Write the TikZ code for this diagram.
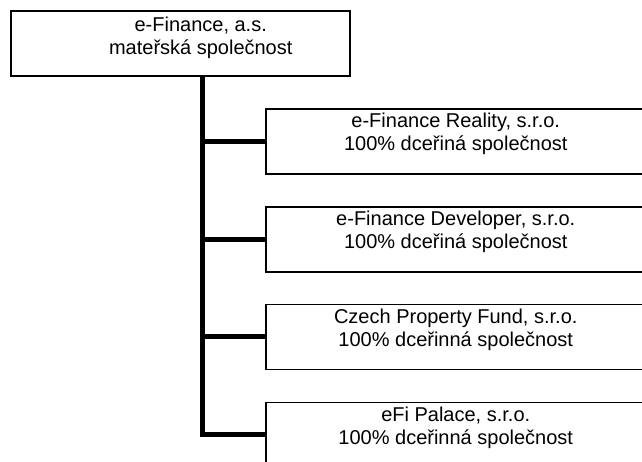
\documentclass[tikz,border=0pt]{standalone}
\usepackage{fontspec}
\setmainfont{Liberation Sans}
\begin{document}
\begin{tikzpicture}[x=1pt,y=-1pt,
  box/.style={draw=black,line width=1.5pt,fill=white,inner sep=0pt,anchor=north west},
  txt/.style={align=center,font=\fontsize{20}{23}\selectfont,inner sep=0pt},
  trunk/.style={line width=5pt,line join=miter,line cap=rect}]
\fill[white] (0,0) rectangle (642,461);
\useasboundingbox (0,0) rectangle (642,461);
\clip (0,0) rectangle (642,461);
\node[box,minimum width=339pt,minimum height=65pt,
  label={[txt,xshift=20.5pt,yshift=5.5pt]center:{e-Finance, a.s.\\mateřská společnost}}] (top) at (10,10) {};
\node[box,minimum width=380pt,minimum height=65pt,
  label={[txt,yshift=7pt]center:{e-Finance Reality, s.r.o.\\100\% dceřiná společnost}}] (c1) at (265,108) {};
\node[box,minimum width=380pt,minimum height=65pt,
  label={[txt,yshift=7pt]center:{e-Finance Developer, s.r.o.\\100\% dceřiná společnost}}] (c2) at (265,206) {};
\node[box,minimum width=380pt,minimum height=65pt,
  label={[txt,yshift=7pt]center:{Czech Property Fund, s.r.o.\\100\% dceřinná společnost}}] (c3) at (265,303.5) {};
\node[box,minimum width=380pt,minimum height=65pt,
  label={[txt,yshift=7pt]center:{eFi Palace, s.r.o.\\100\% dceřinná společnost}}] (c4) at (265,401.5) {};
\coordinate (t) at (202,76);
\draw[trunk,line cap=butt] (t) |- (c4.west);
\draw[trunk,line cap=butt] (t |- c1.west) -- (c1.west);
\draw[trunk,line cap=butt] (t |- c2.west) -- (c2.west);
\draw[trunk,line cap=butt] (t |- c3.west) -- (c3.west);
\end{tikzpicture}
\end{document}
